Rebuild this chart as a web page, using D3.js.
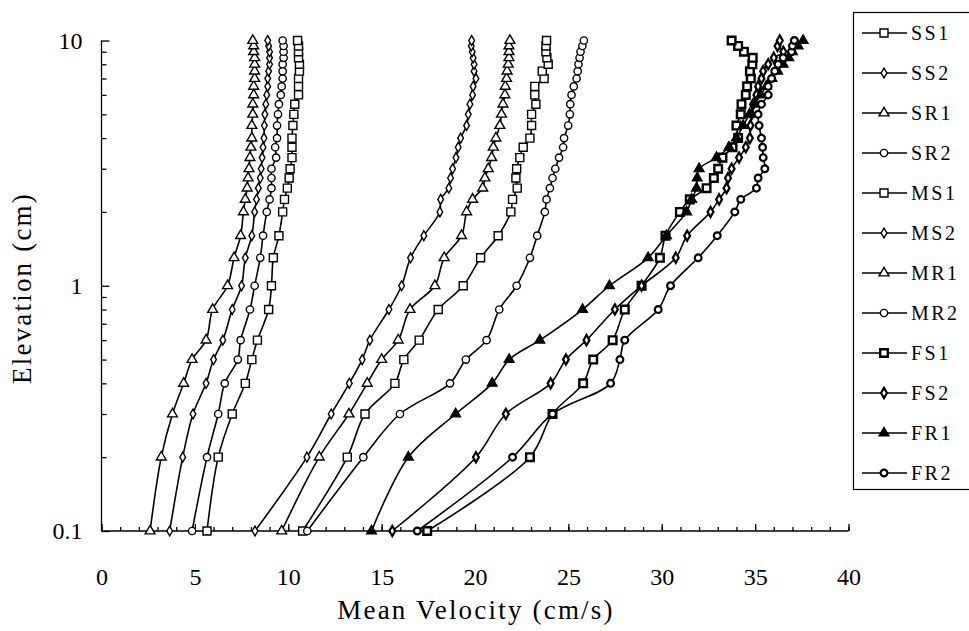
<!DOCTYPE html>
<html>
<head>
<meta charset="utf-8">
<script src="https://cdn.jsdelivr.net/npm/d3@7"></script>
<style>
  body { margin: 0; background: #fff; }
  text { font-family: "Liberation Serif", "Times New Roman", serif; fill: #000; }
</style>
</head>
<body>
<svg id="chart" width="969" height="631"></svg>
<script>
// elevation (cm) of every measured point, shared by all runs
const elevation = [0.1, 0.2, 0.3, 0.4, 0.5, 0.6, 0.8, 1, 1.3, 1.6, 2, 2.25, 2.5, 2.75, 3, 3.33, 3.67, 4, 4.5, 5, 5.5, 6, 6.5, 7, 7.5, 8, 8.5, 9, 9.5, 10];

// mean velocity (cm/s) per run
const ss1 = [5.65, 6.25, 7.0, 7.7, 8.05, 8.35, 8.95, 9.1, 9.2, 9.5, 9.7, 9.8, 9.95, 10.05, 10.1, 10.2, 10.2, 10.2, 10.25, 10.3, 10.35, 10.55, 10.55, 10.55, 10.6, 10.6, 10.55, 10.55, 10.55, 10.5];
const ss2 = [3.65, 4.35, 4.9, 5.6, 6.0, 6.5, 7.0, 7.5, 7.7, 8.05, 8.2, 8.3, 8.4, 8.5, 8.55, 8.6, 8.65, 8.7, 8.72, 8.75, 8.8, 8.85, 8.9, 8.9, 8.95, 9.0, 9.0, 9.0, 8.95, 8.9];
const sr1 = [2.6, 3.2, 3.8, 4.4, 4.85, 5.6, 5.95, 6.75, 7.1, 7.45, 7.6, 7.7, 7.8, 7.85, 7.9, 7.95, 8.0, 8.05, 8.05, 8.1, 8.1, 8.15, 8.15, 8.2, 8.2, 8.2, 8.2, 8.15, 8.15, 8.1];
const sr2 = [4.85, 5.65, 6.25, 6.6, 7.3, 7.45, 7.95, 8.2, 8.5, 8.65, 8.85, 9.0, 9.1, 9.1, 9.1, 9.35, 9.3, 9.4, 9.4, 9.45, 9.5, 9.6, 9.65, 9.7, 9.7, 9.7, 9.75, 9.75, 9.75, 9.7];
const ms1 = [10.77, 13.16, 14.11, 15.71, 16.19, 17.01, 18.03, 19.37, 20.3, 21.24, 21.92, 22.01, 22.26, 22.19, 22.23, 22.4, 22.58, 22.94, 23.03, 23.03, 23.26, 23.2, 23.2, 23.7, 23.6, 23.92, 23.85, 23.8, 23.8, 23.83];
const ms2 = [8.22, 11.0, 12.3, 13.27, 13.96, 14.37, 15.39, 16.07, 16.55, 17.26, 18.12, 18.16, 18.6, 18.69, 18.8, 18.98, 19.1, 19.23, 19.55, 19.64, 19.73, 19.87, 19.9, 20.05, 19.95, 19.95, 19.9, 19.85, 19.8, 19.82];
const mr1 = [9.65, 11.66, 13.25, 14.23, 15.0, 15.89, 16.52, 17.85, 18.35, 19.28, 19.55, 19.87, 20.41, 20.53, 20.71, 20.89, 20.98, 21.12, 21.33, 21.42, 21.5, 21.6, 21.62, 21.69, 21.72, 21.78, 21.82, 21.82, 21.82, 21.87];
const mr2 = [11.02, 14.02, 15.98, 18.66, 19.51, 20.62, 21.3, 22.23, 22.94, 23.33, 23.74, 23.83, 24.01, 24.15, 24.3, 24.5, 24.72, 24.77, 24.99, 25.08, 25.1, 25.17, 25.29, 25.44, 25.5, 25.54, 25.6, 25.65, 25.75, 25.83];
const fs1 = [17.44, 22.94, 24.15, 25.79, 26.33, 27.37, 28.02, 28.92, 29.9, 30.2, 30.97, 31.5, 32.4, 32.79, 33.02, 33.25, 33.79, 34.09, 34.0, 34.23, 34.27, 34.5, 34.57, 34.77, 34.72, 34.85, 34.87, 34.4, 34.09, 33.74];
const fs2 = [15.57, 20.05, 21.65, 24.05, 24.87, 25.97, 27.49, 28.92, 30.75, 31.36, 32.61, 33.07, 33.47, 33.55, 33.74, 34.14, 34.5, 34.72, 34.75, 34.81, 34.89, 35.07, 35.16, 35.34, 35.43, 35.7, 36.0, 36.51, 36.2, 36.32];
const fr1 = [14.46, 16.43, 18.96, 20.92, 21.83, 23.47, 25.76, 27.2, 29.27, 30.25, 31.33, 31.6, 31.86, 31.9, 32.0, 32.93, 33.6, 34.0, 34.36, 34.7, 35.0, 35.3, 35.6, 35.9, 36.2, 36.5, 36.8, 37.0, 37.3, 37.57];
const fr2 = [16.91, 22.01, 24.15, 27.26, 27.76, 28.02, 29.81, 30.47, 31.95, 32.97, 33.91, 34.23, 35.07, 35.16, 35.52, 35.43, 35.4, 35.34, 35.21, 35.16, 35.34, 35.7, 35.7, 35.88, 36.05, 36.23, 36.5, 36.95, 37.0, 37.1];

const seriesNames = ["SS1", "SS2", "SR1", "SR2", "MS1", "MS2", "MR1", "MR2", "FS1", "FS2", "FR1", "FR2"];
const seriesValues = [ss1, ss2, sr1, sr2, ms1, ms2, mr1, mr2, fs1, fs2, fr1, fr2];

const xTickValues = [0, 5, 10, 15, 20, 25, 30, 35, 40];
const yTickValues = [0.1, 1, 10];

// marker look for each run (slow/medium open, fast bold)
const markerStyle = {
  SS1: {shape: d3.symbolSquare, size: 64, fill: "#fff", sw: 1.4},
  SS2: {shape: d3.symbolDiamond, size: 28, fill: "#fff", sw: 1.4},
  SR1: {shape: d3.symbolTriangle, size: 42, fill: "#fff", sw: 1.4},
  SR2: {shape: d3.symbolCircle, size: 42, fill: "#fff", sw: 1.4},
  MS1: {shape: d3.symbolSquare, size: 64, fill: "#fff", sw: 1.4},
  MS2: {shape: d3.symbolDiamond, size: 28, fill: "#fff", sw: 1.4},
  MR1: {shape: d3.symbolTriangle, size: 42, fill: "#fff", sw: 1.4},
  MR2: {shape: d3.symbolCircle, size: 42, fill: "#fff", sw: 1.4},
  FS1: {shape: d3.symbolSquare, size: 58, fill: "#fff", sw: 2.4},
  FS2: {shape: d3.symbolDiamond, size: 30, fill: "#fff", sw: 2.2},
  FR1: {shape: d3.symbolTriangle, size: 44, fill: "#000", sw: 1.2},
  FR2: {shape: d3.symbolCircle, size: 36, fill: "#fff", sw: 2.2}
};

const svg = d3.select("#chart");

let x = d3.scaleLinear().domain([0, 40]).range([101.5, 848.5]);
let y = d3.scaleLog().domain([0.1, 10]).range([531, 40.5]);

// x axis: minor ticks every 1, major every 5, all pointing up
svg.append("g")
    .attr("transform", `translate(0,${y(0.1)})`)
    .call(d3.axisBottom(x).tickValues(d3.range(0, 41, 1)).tickSize(-4).tickFormat(""))
    .call(g => g.select(".domain").remove());

let xAxis = svg.append("g")
    .attr("transform", `translate(0,${y(0.1)})`)
    .call(d3.axisBottom(x).tickValues(xTickValues).tickSize(-7).tickPadding(37).tickFormat(d => d));
xAxis.selectAll("text").attr("font-size", 24).attr("font-family", "Liberation Serif");
xAxis.select(".domain").attr("d", `M${x(0)},0H${x(40)}`);

// y axis: log, ticks pointing right
let minorY = [];
[0.1, 1].forEach(dec => { for (let k = 2; k <= 9; k++) minorY.push(dec * k); });

svg.append("g")
    .attr("transform", `translate(${x(0)},0)`)
    .call(d3.axisLeft(y).tickValues(minorY).tickSize(-5).tickFormat(""))
    .call(g => g.select(".domain").remove());

let yAxis = svg.append("g")
    .attr("transform", `translate(${x(0)},0)`)
    .call(d3.axisLeft(y).tickValues(yTickValues).tickSize(-8).tickPadding(19).tickFormat(d => String(d)));
yAxis.selectAll("text").attr("font-size", 24).attr("font-family", "Liberation Serif");
yAxis.select(".domain").attr("d", `M0,${y(10)}V${y(0.1)}`);

svg.selectAll(".domain, .tick line").attr("stroke", "#000").attr("stroke-width", 1.3);

// titles
svg.append("text")
    .attr("x", 476).attr("y", 619)
    .attr("text-anchor", "middle")
    .attr("font-size", 27)
    .attr("letter-spacing", 2.2)
    .text("Mean Velocity (cm/s)");

svg.append("text")
    .attr("transform", "translate(31,288) rotate(-90)")
    .attr("text-anchor", "middle")
    .attr("font-size", 27)
    .attr("letter-spacing", 2.2)
    .text("Elevation (cm)");

// profiles
let line = d3.line()
    .x(d => x(d.v))
    .y(d => y(d.e))
    .curve(d3.curveCatmullRom.alpha(0.5));

let plot = svg.append("g");

seriesNames.forEach((name, i) => {
  let pts = seriesValues[i].map((v, j) => ({v: v, e: elevation[j]}));
  let st = markerStyle[name];

  plot.append("path")
      .datum(pts)
      .attr("fill", "none")
      .attr("stroke", "#000")
      .attr("stroke-width", 1.6)
      .attr("d", line);

  plot.append("g").selectAll("path")
      .data(pts)
      .join("path")
      .attr("transform", d => `translate(${x(d.v)},${y(d.e)})`)
      .attr("d", d3.symbol().type(st.shape).size(st.size))
      .attr("fill", st.fill)
      .attr("stroke", "#000")
      .attr("stroke-width", st.sw);
});

// legend
let legend = svg.append("g");
legend.append("rect")
    .attr("x", 853.5).attr("y", 12.5)
    .attr("width", 140).attr("height", 477)
    .attr("fill", "#fff")
    .attr("stroke", "#000")
    .attr("stroke-width", 1.2);

seriesNames.forEach((name, i) => {
  let ly = 33 + i * 40;
  let st = markerStyle[name];
  legend.append("line")
      .attr("x1", 862).attr("x2", 907)
      .attr("y1", ly).attr("y2", ly)
      .attr("stroke", "#000").attr("stroke-width", 1.5);
  legend.append("path")
      .attr("transform", `translate(884,${ly})`)
      .attr("d", d3.symbol().type(st.shape).size(st.size))
      .attr("fill", st.fill)
      .attr("stroke", "#000")
      .attr("stroke-width", st.sw);
  legend.append("text")
      .attr("x", 911).attr("y", ly + 7)
      .attr("font-size", 20)
      .attr("letter-spacing", 2.5)
      .text(name);
});
</script>
</body>
</html>
